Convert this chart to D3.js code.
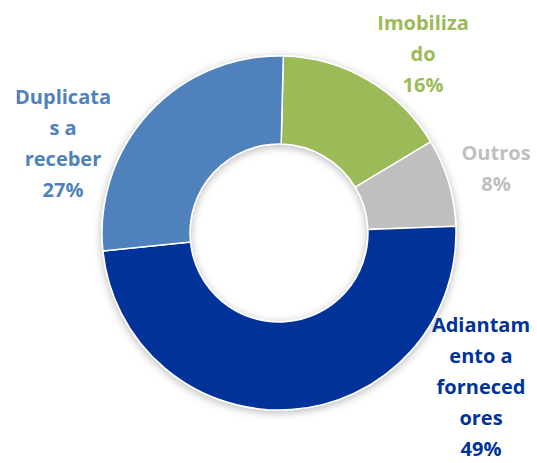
<!DOCTYPE html>
<html>
<head>
<meta charset="utf-8">
<script src="https://cdn.jsdelivr.net/npm/d3@7"></script>
<style>
  html, body { margin: 0; padding: 0; background: #ffffff; }
  svg { display: block; }
  text { font-family: "Open Sans", Lato, sans-serif; font-weight: bold; }
</style>
</head>
<body>
<svg id="chart" width="537" height="463"></svg>
<script>
// ---- data ----
const categories = ["Imobilizado", "Outros", "Adiantamento a fornecedores", "Duplicatas a receber"];
const values = [16, 8, 49, 27];
const colors = ["#9BBB59", "#BFBFBF", "#003399", "#4F81BD"];
const labelLines = [
  ["Imobiliza", "do", "16%"],
  ["Outros", "8%"],
  ["Adiantam", "ento a", "forneced", "ores", "49%"],
  ["Duplicata", "s a", "receber", "27%"]
];

// ---- layout ----
const W = 537, H = 463;
const cx = 279, cy = 233, outerR = 177, innerR = 89;
const startOffset = 1.4 * Math.PI / 180;
const labelAnchor = [
  { x: 423, y: 30 },
  { x: 496, y: 160 },
  { x: 481, y: 332 },
  { x: 63, y: 104 }
];
const lineH = 31;

const svg = d3.select("#chart");
const defs = svg.append("defs");
const f = defs.append("filter").attr("id", "shadow")
  .attr("x", "-20%").attr("y", "-20%").attr("width", "140%").attr("height", "140%");
f.append("feDropShadow").attr("dx", 0).attr("dy", 2).attr("stdDeviation", 4)
  .attr("flood-color", "#000").attr("flood-opacity", 0.28);

const pie = d3.pie().sort(null).value(d => d)
  .startAngle(startOffset).endAngle(startOffset + 2 * Math.PI);
const arc = d3.arc().innerRadius(innerR).outerRadius(outerR);

const g = svg.append("g").attr("transform", `translate(${cx},${cy})`);
g.append("g").attr("filter", "url(#shadow)")
  .selectAll("path")
  .data(pie(values))
  .join("path")
  .attr("d", arc)
  .attr("fill", (d, i) => colors[i])
  .attr("stroke", "#ffffff")
  .attr("stroke-width", 1.5);

const labels = svg.append("g");
labelLines.forEach((lines, i) => {
  const t = labels.append("text")
    .attr("text-anchor", "middle")
    .attr("fill", colors[i])
    .attr("font-size", 20);
  lines.forEach((ln, j) => {
    t.append("tspan")
      .attr("x", labelAnchor[i].x)
      .attr("y", labelAnchor[i].y + j * lineH)
      .text(ln);
  });
});
</script>
</body>
</html>
